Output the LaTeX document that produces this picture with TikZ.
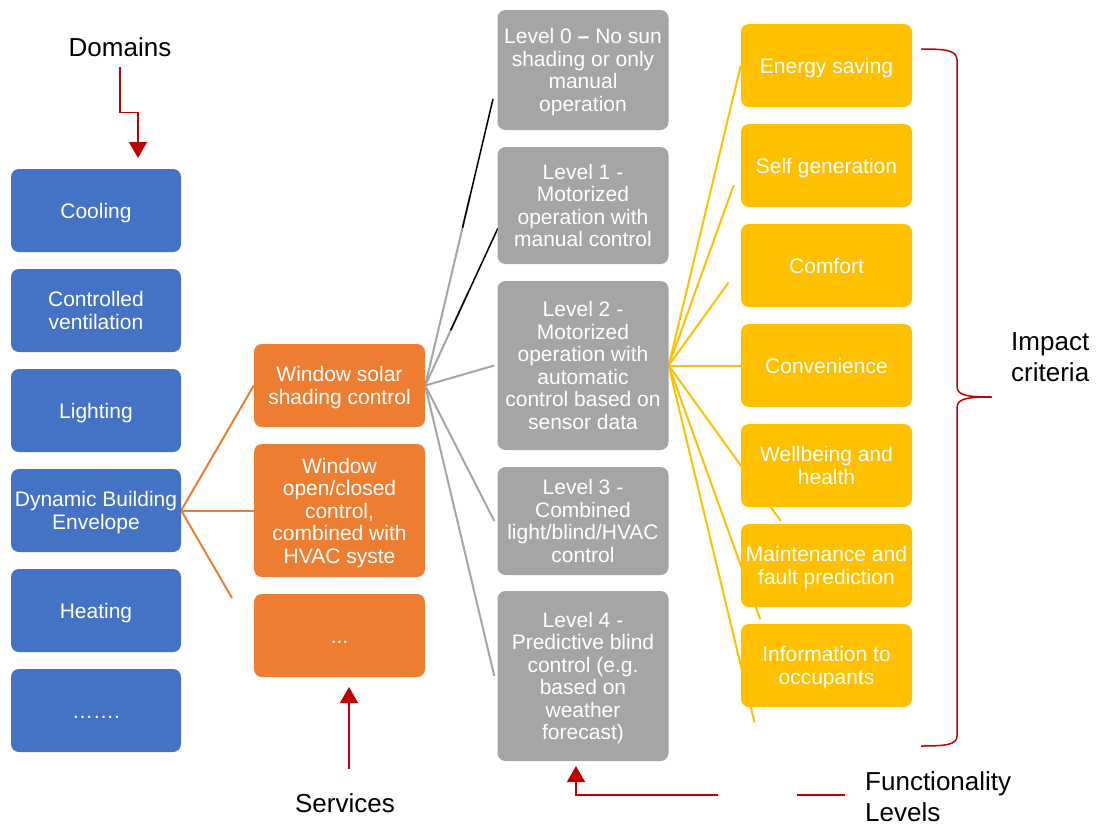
\documentclass[tikz,border=0pt]{standalone}
\usepackage{fontspec}
\setmainfont{Liberation Sans}
\usetikzlibrary{arrows.meta,calc,backgrounds}
\definecolor{cblue}{HTML}{4472C4}
\definecolor{corange}{HTML}{ED7D31}
\definecolor{cgray}{HTML}{A5A5A5}
\definecolor{cgrayline}{HTML}{A5A5A5}
\definecolor{cyellow}{HTML}{FFC000}
\definecolor{cred}{HTML}{C00000}
\newcommand{\boxstrut}{\vrule width 0pt height 21pt depth 5pt\relax}
\newcommand{\boxfont}{\fontsize{21}{22.5}\selectfont\lineskiplimit=-50pt\relax}
\begin{document}
\begin{tikzpicture}[x=1pt,y=-1pt,
 box/.style={rounded corners=8pt, text=white, align=center, inner sep=0pt,
   font=\boxfont,
   execute at begin node={\boxstrut}, execute at end node={\boxstrut},
   minimum width=171pt},
 ml/.style={text depth=-1pt},
 bbox/.style={box, fill=cblue, minimum width=170pt, minimum height=83pt},
 obox/.style={box, fill=corange},
 gbox/.style={box, fill=cgray, ml},
 ybox/.style={box, fill=cyellow, minimum height=83pt},
 oline/.style={draw=corange, line width=2pt},
 gline/.style={draw=cgrayline, line width=2pt},
 bline/.style={draw=black, line width=1.5pt},
 yline/.style={draw=cyellow, line width=2pt},
 rline/.style={draw=cred, line width=1.5pt},
 rarrow/.style={rline, -{Triangle[width=18pt,length=16pt]}},
 lbl/.style={font=\fontsize{26}{31}\selectfont, inner sep=0pt, text=black},
]
\useasboundingbox (0,0) rectangle (1104,825);

% Domains (blue)
\node[bbox] (cool) at (96,210.5) {Cooling};
\node[bbox, ml] (vent) at (96,310.5) {Controlled\\ventilation};
\node[bbox] (light) at (96,410.5) {Lighting};
\node[bbox, ml] (dyn) at (96,510.5) {Dynamic Building\\Envelope};
\node[bbox] (heat) at (96,610.5) {Heating};
\node[bbox] (more) at (96,710.5) {…….};

% Services (orange)
\node[obox, ml, minimum height=83pt] (o1) at (339.5,385.5) {Window solar\\shading control};
\node[obox, ml, minimum height=133pt] (o2) at (339.5,510.5) {Window\\open/closed\\control,\\combined with\\HVAC syste};
\node[obox, minimum height=83pt] (o3) at (339.5,635.5) {...};

% Levels (gray)
\node[gbox, minimum height=120pt] (l0) at (583,70) {Level 0 \textbf{–} No sun\\shading or only\\manual\\operation};
\node[gbox, minimum height=117pt] (l1) at (583,205.5) {Level 1 -\\Motorized\\operation with\\manual control};
\node[gbox, minimum height=169pt] (l2) at (583,365.5) {Level 2 -\\Motorized\\operation with\\automatic\\control based on\\sensor data};
\node[gbox, minimum height=108pt] (l3) at (583,521) {Level 3 -\\Combined\\light/blind/HVAC\\control};
\node[gbox, minimum height=170pt] (l4) at (583,676) {Level 4 -\\Predictive blind\\control (e.g.\\based on\\weather\\forecast)};

% Impact criteria (yellow)
\node[ybox] (y1) at (826.5,65.5) {Energy saving};
\node[ybox] (y2) at (826.5,165.5) {Self generation};
\node[ybox] (y3) at (826.5,265.5) {Comfort};
\node[ybox] (y4) at (826.5,365.5) {Convenience};
\node[ybox, ml] (y5) at (826.5,465.5) {Wellbeing and\\health};
\node[ybox, ml] (y6) at (826.5,565.5) {Maintenance and\\fault prediction};
\node[ybox, ml] (y7) at (826.5,665.5) {Information to\\occupants};

% free ends
\coordinate (oend) at (232,598);
\coordinate (g0) at (493,99);
\coordinate (g1) at (498,228);

\begin{scope}[on background layer]
\draw[oline] (dyn.east) -- (o1.west);
\draw[oline] (dyn.east) -- (o2.west);
\draw[oline] (dyn.east) -- (oend);

\draw[gline] (o1.east) -- ($(o1.east)!0.66!(g0)$);
\draw[gline] (o1.east) -- ($(o1.east)!0.59!(g1)$);
\draw[gline] (o1.east) -- ([xshift=-3pt]l2.west);
\draw[gline] (o1.east) -- ([xshift=-3pt]l3.west);
\draw[gline] (o1.east) -- ([xshift=-3pt]l4.west);
\draw[bline] ($(o1.east)!0.55!(g0)$) -- (g0);
\draw[bline] ($(o1.east)!0.35!(g1)$) -- (g1);

\draw[yline] (l2.east) -- (y1.west);
\draw[yline, shorten >=21pt] (l2.east) -- (y2.west);
\draw[yline, shorten >=21pt] (l2.east) -- (y3.west);
\draw[yline] (l2.east) -- (y4.west);
\draw[yline] (l2.east) -- ($(l2.east)!1.555!(y5.west)$);
\draw[yline] (l2.east) -- ($(l2.east)!1.27!(y6.west)$);
\draw[yline] (l2.east) -- ($(l2.east)!1.19!(y7.west)$);
\end{scope}

% labels
\node[lbl, anchor=base] (dom) at (120,56) {Domains};
\node[lbl, anchor=base] (serv) at (345,812) {Services};
\node[lbl, anchor=west, align=left] (func) at (865,797) {Functionality\\Levels};
\node[lbl, anchor=west, align=left] (imp) at (1011,357) {Impact\\criteria};

% red arrows
\coordinate (dtip) at (138,158);
\draw[rarrow] ([yshift=-11pt]dom.south) -- ++(0,45) -| (dtip);

\coordinate (sstart) at (349,769);
\coordinate (stip) at (349,687);
\draw[rarrow] (sstart) -- (stip);

\coordinate (fstart) at (718,795);
\coordinate (ftip) at (576,766);
\draw[rarrow] (fstart) -| (ftip);
\coordinate (fa) at (797,795);
\coordinate (fb) at (845,795);
\draw[rline] (fa) -- (fb);

% brace
\draw[rline] (921,49) .. controls (945,49) and (957,50) .. (957,60) -- (957,386)
  .. controls (957,395) and (965,397) .. (992,397)
  .. controls (965,397) and (957,399) .. (957,408) -- (957,736)
  .. controls (957,745) and (945,746) .. (921,746);
\end{tikzpicture}
\end{document}
